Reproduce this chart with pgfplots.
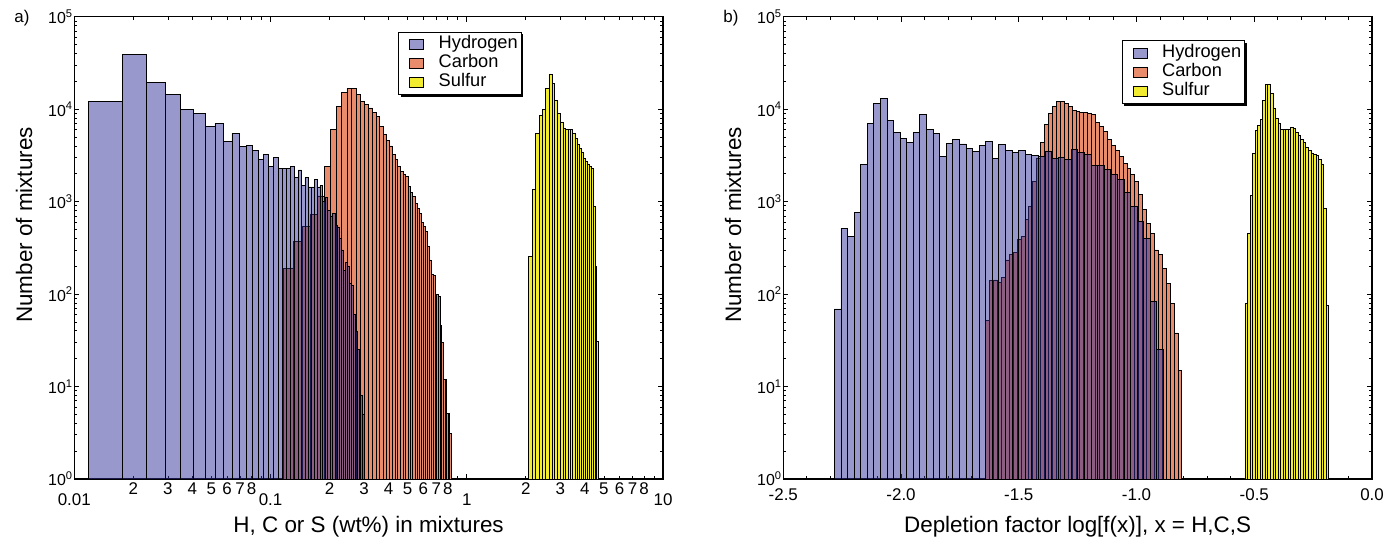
\documentclass[border=0pt]{standalone}
\usepackage{fontspec}
\setmainfont{Liberation Sans}
\usepackage{pgfplots}
\usepackage{pgfplotstable}
\pgfplotsset{compat=1.18}
\usetikzlibrary{shadows}
\definecolor{hydro}{RGB}{49,49,153}
\definecolor{hydroL}{RGB}{152,152,204}
\definecolor{carb}{RGB}{232,140,108}
\definecolor{sulf}{RGB}{242,236,48}

% ---------- left panel: wt% (bin left edges; last row = right edge of last bin)
\pgfplotstableread{
x y
0.01184 12240
0.01759 39450
0.02334 19650
0.02909 14560
0.03484 9860
0.04059 8980
0.04634 6560
0.05209 7000
0.05784 4520
0.06359 5460
0.06934 3985
0.07509 4050
0.08084 3600
0.08659 2880
0.09234 3240
0.09809 2420
0.10384 2980
0.10959 2300
0.11534 2280
0.12109 2280
0.12684 2420
0.13259 1820
0.13834 2200
0.14409 1510
0.14984 1820
0.15559 1440
0.16134 1440
0.16709 1750
0.17284 1440
0.17859 1490
0.18434 1000
0.19009 1100
0.19584 800
0.20159 700
0.20734 750
0.21309 550
0.21884 530
0.22459 400
0.23034 300
0.23609 180
0.24184 220
0.24759 200
0.25334 130
0.25909 125
0.26484 60
0.27059 39
0.27634 25
0.28209 18
0.28784 8
0.29359 5
0.29934 5
}\HL

\pgfplotstableread{
x y
0.11620 190
0.13052 370
0.14484 535
0.15916 720
0.17348 1150
0.18780 2400
0.20212 6090
0.21644 10700
0.23076 15200
0.24508 16800
0.25940 16800
0.27372 14300
0.28804 12100
0.30236 11300
0.31668 10300
0.33100 9200
0.34532 8330
0.35964 6500
0.37396 5290
0.38828 4550
0.40260 4000
0.41692 3270
0.43124 2830
0.44556 2420
0.45988 2100
0.47420 1950
0.48852 1860
0.50284 1450
0.51716 1250
0.53148 1130
0.54580 965
0.56012 850
0.57444 740
0.58876 600
0.60308 535
0.61740 475
0.63172 330
0.64604 234
0.66036 162
0.67468 158
0.68900 98
0.70332 98
0.71764 94
0.73196 46
0.74628 30
0.76060 11.8
0.77492 11.8
0.78924 5.1
0.80356 5.1
0.81788 3.1
0.83220 3.1
}\CL

\pgfplotstableread{
x y
2.06000 255
2.15375 1365
2.24750 5510
2.34125 8550
2.43500 9860
2.52875 16630
2.62250 23560
2.71625 18830
2.81000 12330
2.90375 9080
2.99750 7250
3.09125 6240
3.18500 5980
3.27875 5980
3.37250 6050
3.46625 5510
3.56000 4785
3.65375 4120
3.74750 3790
3.84125 3430
3.93500 2900
4.02875 2715
4.12250 2545
4.21625 2400
4.31000 2260
4.40375 885
4.49750 198
4.59125 30.6
4.68500 30.6
}\SL

% ---------- right panel: log depletion factor
\pgfplotstableread{
x y
-2.28340 69
-2.25545 517
-2.22750 416
-2.19955 762
-2.17160 2545
-2.14365 7060
-2.11570 11430
-2.08775 13170
-2.05980 7550
-2.03185 5650
-2.00390 4820
-1.97595 4400
-1.94800 5600
-1.92005 8690
-1.89210 6090
-1.86415 5420
-1.83620 3080
-1.80825 4250
-1.78030 4750
-1.75235 4200
-1.72440 3790
-1.69645 3460
-1.66850 4015
-1.64055 4480
-1.61260 2960
-1.58465 4190
-1.55670 3570
-1.52875 3375
-1.50080 3600
-1.47285 3240
-1.44490 3150
-1.41695 3080
-1.38900 3520
-1.36105 2900
-1.33310 3000
-1.30515 2830
-1.27720 3640
-1.24925 3370
-1.22130 3270
-1.19335 2440
-1.16540 2440
-1.13745 2210
-1.10950 1950
-1.08155 1720
-1.05360 1255
-1.02565 885
-0.99770 609
-0.96975 403
-0.94180 83
-0.91385 25
-0.88590 25
}\HR

\pgfplotstableread{
x y
-1.64060 52
-1.62394 140
-1.60728 142
-1.59062 134
-1.57396 152
-1.55730 234
-1.54064 266
-1.52398 284
-1.50732 386
-1.49066 419
-1.47400 646
-1.45734 885
-1.44068 1667
-1.42402 2900
-1.40736 4400
-1.39070 6900
-1.37404 8900
-1.35738 10600
-1.34072 12100
-1.32406 12100
-1.30740 11500
-1.29074 10600
-1.27408 9700
-1.25742 9500
-1.24076 9300
-1.22410 9200
-1.20744 9080
-1.19078 8800
-1.17412 7200
-1.15746 6500
-1.14080 5740
-1.12414 4670
-1.10748 4015
-1.09082 3550
-1.07416 3080
-1.05750 2610
-1.04084 2305
-1.02418 1950
-1.00752 1650
-0.99086 1185
-0.97420 815
-0.95754 585
-0.94088 456
-0.92422 300
-0.90756 266
-0.89090 190
-0.87424 130
-0.85758 80
-0.84092 38
-0.82426 15
-0.80760 15
}\CR

\pgfplotstableread{
x y
-0.53950 80
-0.52872 448
-0.51795 1165
-0.50717 3350
-0.49640 5890
-0.48562 6600
-0.47484 7810
-0.46407 12330
-0.45329 18700
-0.44252 18700
-0.43174 14900
-0.42096 10300
-0.41019 8020
-0.39941 6950
-0.38864 6090
-0.37786 5980
-0.36708 5980
-0.35631 6090
-0.34553 6400
-0.33476 6200
-0.32398 5600
-0.31320 5150
-0.30243 4650
-0.29165 4360
-0.28088 3890
-0.27010 3580
-0.25932 3350
-0.24855 3230
-0.23777 3150
-0.22700 2870
-0.21622 2550
-0.20544 850
-0.19467 76
-0.18389 76
}\SR

% legend square drawn with basic-layer pgf (so the box's drop shadow is not inherited)
\newcommand{\legsq}[1]{%
  \pgfpathrectangle{\pgfpoint{0bp}{-5bp}}{\pgfpoint{1bp}{10bp}}\pgfusepath{}%
  \pgfsetfillcolor{#1}\pgfsetstrokecolor{black}\pgfsetlinewidth{0.8bp}%
  \pgfpathrectangle{\pgfpoint{9bp}{-5bp}}{\pgfpoint{14bp}{10bp}}\pgfusepath{fill,stroke}}

\pgfplotsset{
  every axis/.append style={
    scale only axis, width=588.7bp, height=462.3bp,
    ymin=1, ymax=100000,
    ytick={1,10,100,1000,10000,100000},
    yticklabels={10\textsuperscript{0},10\textsuperscript{1},10\textsuperscript{2},10\textsuperscript{3},10\textsuperscript{4},10\textsuperscript{5}},
    minor ytick={2,3,4,5,6,7,8,9,20,30,40,50,60,70,80,90,200,300,400,500,600,700,800,900,2000,3000,4000,5000,6000,7000,8000,9000,20000,30000,40000,50000,60000,70000,80000,90000},
    axis line style={line width=1.4bp},
    tick style={black, line width=0.8bp},
    major tick length=5bp, minor tick length=3bp,
    tick align=inside,
    yticklabel style={font=\fontsize{16}{16}\selectfont, inner sep=1.5bp},
    xticklabel style={font=\fontsize{17}{17}\selectfont},
    legend cell align=left,
  },
  hbar/.style={ybar interval, fill=hydro, fill opacity=0.5, draw=black, line width=0.8bp, forget plot},
  cbar/.style={ybar interval, fill=carb, draw=black, line width=0.8bp, forget plot},
  sbar/.style={ybar interval, fill=sulf, draw=black, line width=0.8bp, forget plot},
  mylegend/.style={
    legend style={draw=black, line width=1bp, fill=white,
      font=\fontsize{18.3}{19}\selectfont,
      inner xsep=2bp, inner ysep=2.8bp, row sep=0bp,
      nodes={text height=12.5bp, text depth=3.8bp, inner ysep=1.35bp, inner xsep=1.5bp},
      /tikz/every odd column/.append style={column sep=13bp},
      drop shadow={shadow xshift=2.2bp, shadow yshift=-2.2bp, fill=black, opacity=1}},
  },
}

\begin{document}
\begin{tikzpicture}[x=1bp,y=1bp]
\useasboundingbox (0,0) rectangle (1397,538);

\begin{axis}[at={(74.3bp,59bp)}, anchor=south west, ymode=log, xmode=log,
  xmin=0.01, xmax=10,
  xtick={0.01,0.1,1,10},
  xticklabels={0.01,0.1,1,10},
  xticklabel style={yshift=-11bp},
  minor xtick={0.02,0.03,0.04,0.05,0.06,0.07,0.08,0.09,0.2,0.3,0.4,0.5,0.6,0.7,0.8,0.9,2,3,4,5,6,7,8,9},
  extra x ticks={0.02,0.03,0.04,0.05,0.06,0.07,0.08,0.2,0.3,0.4,0.5,0.6,0.7,0.8,2,3,4,5,6,7,8},
  extra x tick labels={2,3,4,5,6,7,8,2,3,4,5,6,7,8,2,3,4,5,6,7,8},
  extra x tick style={major tick length=3bp, tick label style={font=\fontsize{11}{11}\selectfont, yshift=11bp}},
  mylegend,
  legend style={at={(0.5504,0.9676)}, anchor=north west},
]
\addplot[cbar] table {\CL};
\addplot[hbar] table {\HL};
\addplot[sbar] table {\SL};
\addlegendimage{legend image code/.code={\legsq{hydroL}}}
\addlegendentry{Hydrogen}
\addlegendimage{legend image code/.code={\legsq{carb}}}
\addlegendentry{Carbon}
\addlegendimage{legend image code/.code={\legsq{sulf}}}
\addlegendentry{Sulfur}
\end{axis}

\begin{axis}[at={(783.3bp,59bp)}, anchor=south west, ymode=log,
  xmin=-2.5, xmax=0,
  xtick={-2.5,-2,-1.5,-1,-0.5,0},
  xticklabels={-2.5,-2.0,-1.5,-1.0,-0.5,0.0},
  xticklabel style={yshift=-6bp},
  minor x tick num=4,
  mylegend,
  legend style={at={(0.5748,0.9487)}, anchor=north west},
]
\addplot[cbar] table {\CR};
\addplot[hbar] table {\HR};
\addplot[sbar] table {\SR};
\addlegendimage{legend image code/.code={\legsq{hydroL}}}
\addlegendentry{Hydrogen}
\addlegendimage{legend image code/.code={\legsq{carb}}}
\addlegendentry{Carbon}
\addlegendimage{legend image code/.code={\legsq{sulf}}}
\addlegendentry{Sulfur}
\end{axis}

\node[font=\fontsize{17}{17}\selectfont] at (22,520) {a)};
\node[font=\fontsize{17}{17}\selectfont] at (731,520) {b)};
\node[font=\fontsize{22.5}{22.5}\selectfont, rotate=90] at (24,313) {Number of mixtures};
\node[font=\fontsize{22.5}{22.5}\selectfont, rotate=90] at (733,313) {Number of mixtures};
\node[font=\fontsize{22.5}{22.5}\selectfont] at (368.6,11) {H, C or S (wt\%) in mixtures};
\node[font=\fontsize{22.5}{22.5}\selectfont] at (1077.6,11) {Depletion factor log[f(x)], x = H,C,S};
\end{tikzpicture}
\end{document}
